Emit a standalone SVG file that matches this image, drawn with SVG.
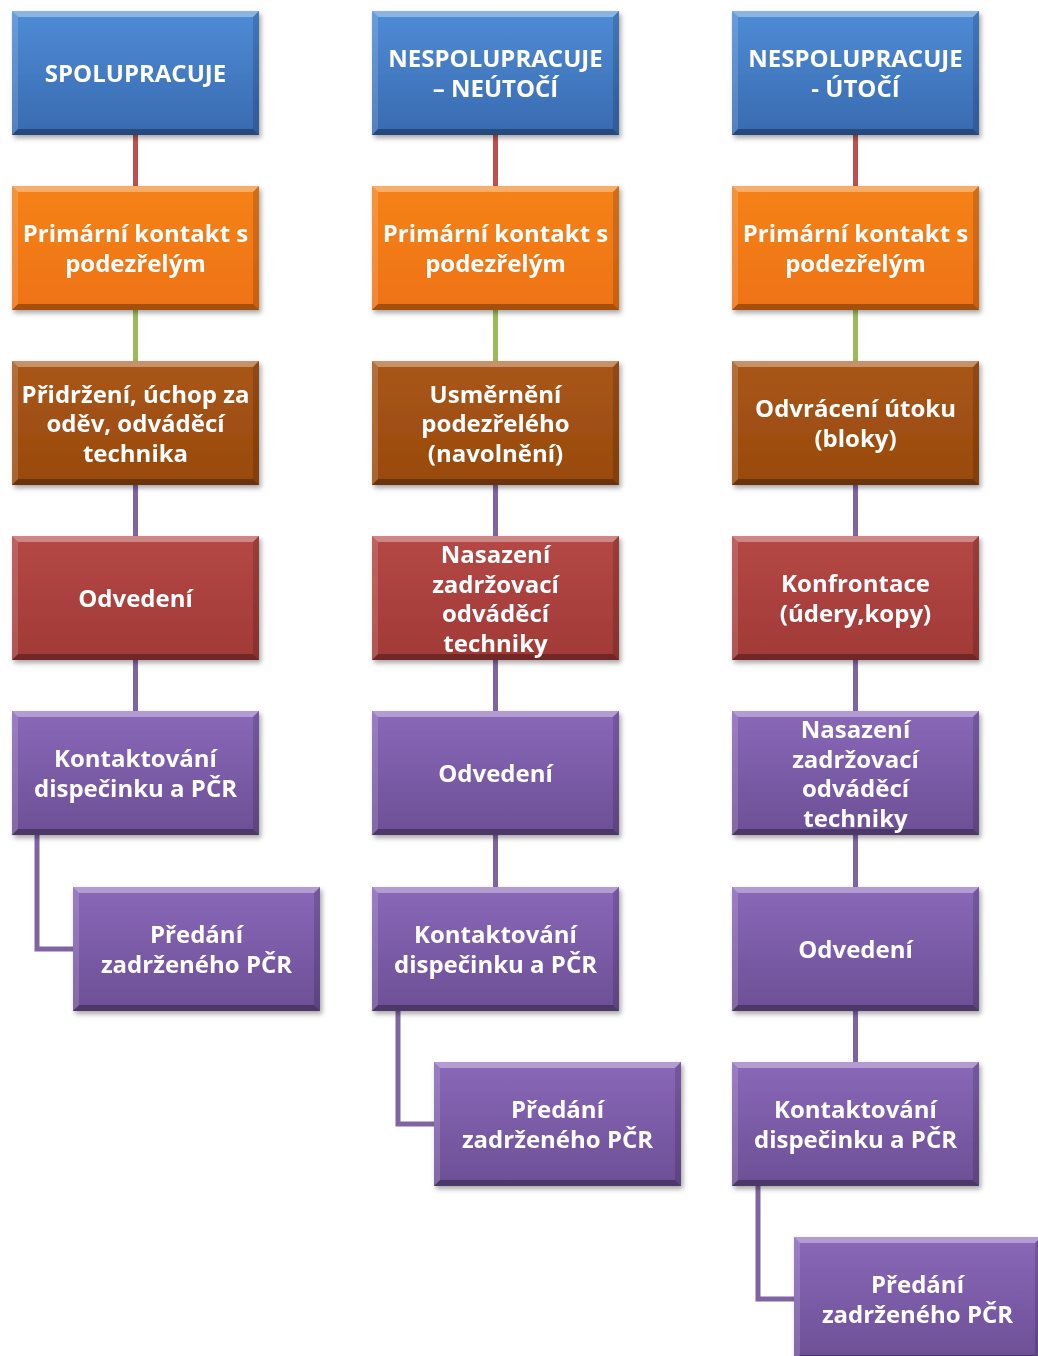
<svg xmlns="http://www.w3.org/2000/svg" width="1038" height="1356" viewBox="0 0 1038 1356">
<defs>
<linearGradient id="gBlue" x1="0" y1="0" x2="0" y2="1"><stop offset="0" stop-color="#4f8cd6"/><stop offset="1" stop-color="#386ab0"/></linearGradient>
<linearGradient id="gOrange" x1="0" y1="0" x2="0" y2="1"><stop offset="0" stop-color="#f5821a"/><stop offset="1" stop-color="#ee7212"/></linearGradient>
<linearGradient id="gBrown" x1="0" y1="0" x2="0" y2="1"><stop offset="0" stop-color="#a9561a"/><stop offset="1" stop-color="#984a0c"/></linearGradient>
<linearGradient id="gRed" x1="0" y1="0" x2="0" y2="1"><stop offset="0" stop-color="#b44845"/><stop offset="1" stop-color="#a13a37"/></linearGradient>
<linearGradient id="gPurple" x1="0" y1="0" x2="0" y2="1"><stop offset="0" stop-color="#8a68b9"/><stop offset="1" stop-color="#6c4f95"/></linearGradient>
<filter id="sh" x="-10%" y="-10%" width="125%" height="130%"><feDropShadow dx="2" dy="3" stdDeviation="2.5" flood-color="#000" flood-opacity="0.35"/></filter>
<g id="bevel">
<polygon points="0,0 247,0 241,6 6,6" fill="#fff" fill-opacity="0.35"/>
<polygon points="0,0 6,6 6,118 0,124" fill="#fff" fill-opacity="0.15"/>
<polygon points="247,0 247,124 241,118 241,6" fill="#000" fill-opacity="0.15"/>
<polygon points="0,124 6,118 241,118 247,124" fill="#000" fill-opacity="0.3"/>
</g>
</defs>
<style>
.box{filter:url(#sh)}
.t{font-family:"Open Sans","Lato","DejaVu Sans",sans-serif;font-weight:700;font-size:24px;fill:#fff;text-anchor:middle}
.c{fill:none;stroke-width:5}
.cr{stroke:#c0504d}.cg{stroke:#9bbb59}.cp{stroke:#8064a2}
</style>
<g id="connectors">
<line class="c cr" x1="135.5" y1="134" x2="135.5" y2="186"/>
<line class="c cg" x1="135.5" y1="309" x2="135.5" y2="361"/>
<line class="c cp" x1="135.5" y1="485" x2="135.5" y2="536"/>
<line class="c cp" x1="135.5" y1="660" x2="135.5" y2="711"/>
<polyline class="c cp" points="37,835 37,949 73,949"/>
<line class="c cr" x1="495.5" y1="134" x2="495.5" y2="186"/>
<line class="c cg" x1="495.5" y1="309" x2="495.5" y2="361"/>
<line class="c cp" x1="495.5" y1="485" x2="495.5" y2="536"/>
<line class="c cp" x1="495.5" y1="660" x2="495.5" y2="711"/>
<line class="c cp" x1="495.5" y1="835" x2="495.5" y2="887"/>
<polyline class="c cp" points="398,1010 398,1124 434,1124"/>
<line class="c cr" x1="855.5" y1="134" x2="855.5" y2="186"/>
<line class="c cg" x1="855.5" y1="309" x2="855.5" y2="361"/>
<line class="c cp" x1="855.5" y1="485" x2="855.5" y2="536"/>
<line class="c cp" x1="855.5" y1="660" x2="855.5" y2="711"/>
<line class="c cp" x1="855.5" y1="835" x2="855.5" y2="887"/>
<line class="c cp" x1="855.5" y1="1010" x2="855.5" y2="1062"/>
<polyline class="c cp" points="758,1186 758,1299 794,1299"/>
</g>
<!-- column 1 -->
<g id="c1r0" class="box" transform="translate(12,11)"><rect width="247" height="124" fill="url(#gBlue)"/><use href="#bevel"/><text class="t" x="123.5" y="71">SPOLUPRACUJE</text></g>
<g id="c1r1" class="box" transform="translate(12,186)"><rect width="247" height="124" fill="url(#gOrange)"/><use href="#bevel"/><text class="t" x="123.5" y="56">Primární kontakt s</text><text class="t" x="123.5" y="86">podezřelým</text></g>
<g id="c1r2" class="box" transform="translate(12,361)"><rect width="247" height="124" fill="url(#gBrown)"/><use href="#bevel"/><text class="t" x="123.5" y="42">Přidržení, úchop za</text><text class="t" x="123.5" y="71">oděv, odváděcí</text><text class="t" x="123.5" y="101">technika</text></g>
<g id="c1r3" class="box" transform="translate(12,536)"><rect width="247" height="124" fill="url(#gRed)"/><use href="#bevel"/><text class="t" x="123.5" y="71">Odvedení</text></g>
<g id="c1r4" class="box" transform="translate(12,711)"><rect width="247" height="124" fill="url(#gPurple)"/><use href="#bevel"/><text class="t" x="123.5" y="56">Kontaktování</text><text class="t" x="123.5" y="86">dispečinku a PČR</text></g>
<g id="c1r5" class="box" transform="translate(73,887)"><rect width="247" height="124" fill="url(#gPurple)"/><use href="#bevel"/><text class="t" x="123.5" y="56">Předání</text><text class="t" x="123.5" y="86">zadrženého PČR</text></g>
<!-- column 2 -->
<g id="c2r0" class="box" transform="translate(372,11)"><rect width="247" height="124" fill="url(#gBlue)"/><use href="#bevel"/><text class="t" x="123.5" y="56">NESPOLUPRACUJE</text><text class="t" x="123.5" y="86">– NEÚTOČÍ</text></g>
<g id="c2r1" class="box" transform="translate(372,186)"><rect width="247" height="124" fill="url(#gOrange)"/><use href="#bevel"/><text class="t" x="123.5" y="56">Primární kontakt s</text><text class="t" x="123.5" y="86">podezřelým</text></g>
<g id="c2r2" class="box" transform="translate(372,361)"><rect width="247" height="124" fill="url(#gBrown)"/><use href="#bevel"/><text class="t" x="123.5" y="42">Usměrnění</text><text class="t" x="123.5" y="71">podezřelého</text><text class="t" x="123.5" y="101">(navolnění)</text></g>
<g id="c2r3" class="box" transform="translate(372,536)"><rect width="247" height="124" fill="url(#gRed)"/><use href="#bevel"/><text class="t" x="123.5" y="27">Nasazení</text><text class="t" x="123.5" y="57">zadržovací</text><text class="t" x="123.5" y="86">odváděcí</text><text class="t" x="123.5" y="116">techniky</text></g>
<g id="c2r4" class="box" transform="translate(372,711)"><rect width="247" height="124" fill="url(#gPurple)"/><use href="#bevel"/><text class="t" x="123.5" y="71">Odvedení</text></g>
<g id="c2r5" class="box" transform="translate(372,887)"><rect width="247" height="124" fill="url(#gPurple)"/><use href="#bevel"/><text class="t" x="123.5" y="56">Kontaktování</text><text class="t" x="123.5" y="86">dispečinku a PČR</text></g>
<g id="c2r6" class="box" transform="translate(434,1062)"><rect width="247" height="124" fill="url(#gPurple)"/><use href="#bevel"/><text class="t" x="123.5" y="56">Předání</text><text class="t" x="123.5" y="86">zadrženého PČR</text></g>
<!-- column 3 -->
<g id="c3r0" class="box" transform="translate(732,11)"><rect width="247" height="124" fill="url(#gBlue)"/><use href="#bevel"/><text class="t" x="123.5" y="56">NESPOLUPRACUJE</text><text class="t" x="123.5" y="86">- ÚTOČÍ</text></g>
<g id="c3r1" class="box" transform="translate(732,186)"><rect width="247" height="124" fill="url(#gOrange)"/><use href="#bevel"/><text class="t" x="123.5" y="56">Primární kontakt s</text><text class="t" x="123.5" y="86">podezřelým</text></g>
<g id="c3r2" class="box" transform="translate(732,361)"><rect width="247" height="124" fill="url(#gBrown)"/><use href="#bevel"/><text class="t" x="123.5" y="56">Odvrácení útoku</text><text class="t" x="123.5" y="86">(bloky)</text></g>
<g id="c3r3" class="box" transform="translate(732,536)"><rect width="247" height="124" fill="url(#gRed)"/><use href="#bevel"/><text class="t" x="123.5" y="56">Konfrontace</text><text class="t" x="123.5" y="86">(údery,kopy)</text></g>
<g id="c3r4" class="box" transform="translate(732,711)"><rect width="247" height="124" fill="url(#gPurple)"/><use href="#bevel"/><text class="t" x="123.5" y="27">Nasazení</text><text class="t" x="123.5" y="57">zadržovací</text><text class="t" x="123.5" y="86">odváděcí</text><text class="t" x="123.5" y="116">techniky</text></g>
<g id="c3r5" class="box" transform="translate(732,887)"><rect width="247" height="124" fill="url(#gPurple)"/><use href="#bevel"/><text class="t" x="123.5" y="71">Odvedení</text></g>
<g id="c3r6" class="box" transform="translate(732,1062)"><rect width="247" height="124" fill="url(#gPurple)"/><use href="#bevel"/><text class="t" x="123.5" y="56">Kontaktování</text><text class="t" x="123.5" y="86">dispečinku a PČR</text></g>
<g id="c3r7" class="box" transform="translate(794,1237)"><rect width="247" height="124" fill="url(#gPurple)"/><use href="#bevel"/><text class="t" x="123.5" y="56">Předání</text><text class="t" x="123.5" y="86">zadrženého PČR</text></g>
</svg>
